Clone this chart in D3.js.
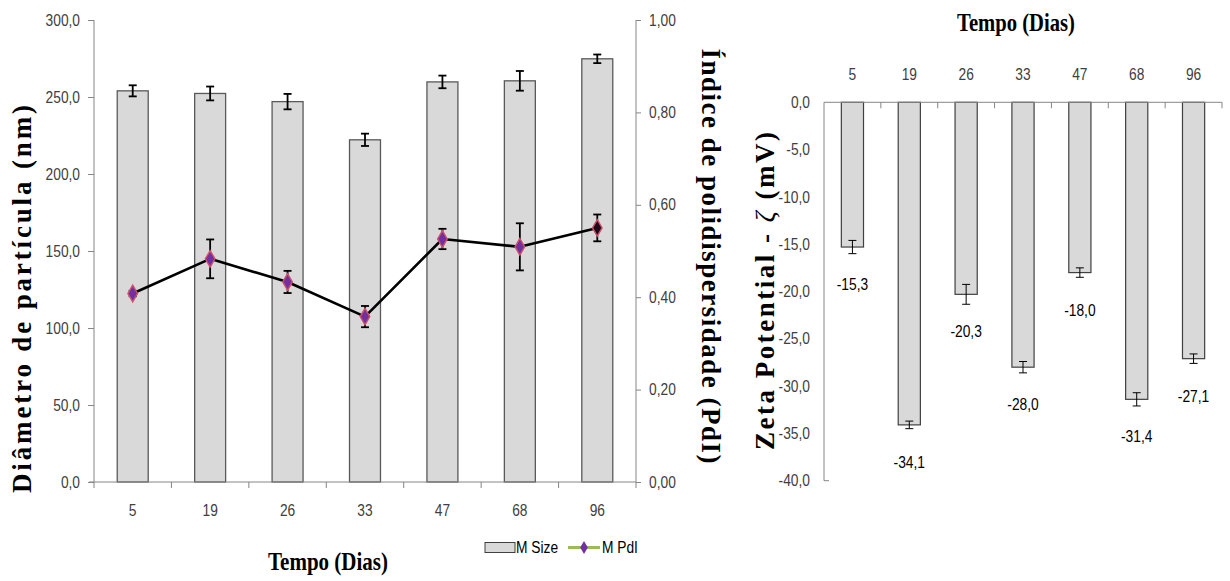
<!DOCTYPE html>
<html>
<head>
<meta charset="utf-8">
<script src="https://cdn.jsdelivr.net/npm/d3@7"></script>
<style>
  html, body { margin: 0; padding: 0; background: #ffffff; }
  svg { display: block; }
  .tick-label { font-family: "Liberation Sans", Arial, sans-serif; font-size: 16px; fill: #404040; }
  .title { font-family: "Liberation Serif", "Times New Roman", serif; font-weight: bold; fill: #000; }
</style>
</head>
<body>
<svg id="chart" width="1230" height="581"></svg>
<script>
// Sampling days (categories shared by both panels)
const days = ["5", "19", "26", "33", "47", "68", "96"];

// Mean particle size (nm) and its standard deviation
const sizeMean = [254.0, 252.3, 247.0, 222.2, 259.8, 260.5, 274.8];
const sizeErr  = [3.6, 4.5, 5.0, 4.0, 4.1, 6.4, 2.8];

// Mean polydispersity index and its standard deviation
const pdiMean = [0.408, 0.483, 0.433, 0.358, 0.526, 0.509, 0.550];
const pdiErr  = [0.006, 0.042, 0.024, 0.023, 0.022, 0.051, 0.029];

// Zeta potential (mV) and its standard deviation
const zeta    = [-15.3, -34.1, -20.3, -28.0, -18.0, -31.4, -27.1];
const zetaErr = [0.7, 0.4, 1.05, 0.6, 0.5, 0.7, 0.5];

// Axis tick values
const sizeTicks = [0, 50, 100, 150, 200, 250, 300];
const pdiTicks  = [0, 0.2, 0.4, 0.6, 0.8, 1.0];
const zetaTicks = [0, -5, -10, -15, -20, -25, -30, -35, -40];

const svg = d3.select("#chart");
const axisColor = "#868686";
const fmt1 = d => d.toFixed(1).replace(".", ",");
const fmt2 = d => d.toFixed(2).replace(".", ",");

// ---------- Left panel: size bars + PdI line ----------
const L = { left: 94, right: 636, top: 20, bottom: 482 };
const x1 = d3.scaleBand().domain(days).range([L.left, L.right]).padding(0);
const ySize = d3.scaleLinear().domain([0, 300]).range([L.bottom, L.top]);
const yPdi = d3.scaleLinear().domain([0, 1]).range([L.bottom, L.top]);
const barW1 = x1.bandwidth() * 0.4;

const gL = svg.append("g");

// bars
gL.selectAll("rect.size").data(days).join("rect")
  .attr("class", "size")
  .attr("x", (d) => x1(d) + (x1.bandwidth() - barW1) / 2)
  .attr("y", (d, i) => ySize(sizeMean[i]))
  .attr("width", barW1)
  .attr("height", (d, i) => ySize(0) - ySize(sizeMean[i]))
  .attr("fill", "#d9d9d9")
  .attr("stroke", "#595959")
  .attr("stroke-width", 1.3);

// error bars helper
function errBars(g, xs, ys, means, errs, cap, width) {
  const cx = d => xs(d) + xs.bandwidth() / 2;
  const eg = g.append("g").attr("stroke", "#000").attr("stroke-width", width).attr("fill", "none");
  days.forEach((d, i) => {
    const y0 = ys(means[i] - errs[i]), y1 = ys(means[i] + errs[i]);
    eg.append("line").attr("x1", cx(d)).attr("x2", cx(d)).attr("y1", y0).attr("y2", y1);
    eg.append("line").attr("x1", cx(d) - cap).attr("x2", cx(d) + cap).attr("y1", y0).attr("y2", y0);
    eg.append("line").attr("x1", cx(d) - cap).attr("x2", cx(d) + cap).attr("y1", y1).attr("y2", y1);
  });
}
errBars(gL, x1, ySize, sizeMean, sizeErr, 4, 1.8);

// axes (left panel)
const axL = gL.append("g").attr("transform", `translate(${L.left},0)`)
  .call(d3.axisLeft(ySize).tickValues(sizeTicks).tickFormat(fmt1).tickSize(6).tickPadding(8));
const axR = gL.append("g").attr("transform", `translate(${L.right},0)`)
  .call(d3.axisRight(yPdi).tickValues(pdiTicks).tickFormat(fmt2).tickSize(5).tickPadding(8));
// category boundary ticks on the bottom axis
gL.append("g").selectAll("line").data(d3.range(days.length + 1)).join("line")
  .attr("x1", i => L.left + i * x1.step()).attr("x2", i => L.left + i * x1.step())
  .attr("y1", L.bottom).attr("y2", L.bottom + 6)
  .attr("stroke", axisColor);
gL.append("line").attr("x1", L.left - 5).attr("x2", L.right).attr("y1", L.bottom).attr("y2", L.bottom)
  .attr("stroke", axisColor);
gL.selectAll("text.xl").data(days).join("text")
  .attr("class", "tick-label xl")
  .attr("x", d => x1(d) + x1.bandwidth() / 2)
  .attr("y", 516)
  .attr("text-anchor", "middle")
  .text(d => d);

[axL, axR].forEach(a => {
  a.selectAll("path.domain").attr("stroke", axisColor).attr("stroke-width", 1);
  a.selectAll(".tick line").attr("stroke", axisColor);
  a.selectAll(".tick text").attr("class", "tick-label").attr("font-size", null).attr("font-family", null);
});
axL.select("path.domain").attr("d", `M0,${L.bottom}V${L.top}`);
axR.select("path.domain").attr("d", `M0,${L.bottom}V${L.top}`);

// PdI line
const cx1 = (d) => x1(d) + x1.bandwidth() / 2;
const line = d3.line().x((d, i) => cx1(days[i])).y(d => yPdi(d));
gL.append("path").datum(pdiMean)
  .attr("d", line)
  .attr("fill", "none")
  .attr("stroke", "#000")
  .attr("stroke-width", 2.6)
  .attr("stroke-linejoin", "round");

errBars(gL, x1, yPdi, pdiMean, pdiErr, 4, 1.8);

const diamond = d3.symbol().type(d3.symbolDiamond).size(80);
gL.selectAll("path.pdi").data(pdiMean).join("path")
  .attr("class", "pdi")
  .attr("d", diamond)
  .attr("transform", (d, i) => `translate(${cx1(days[i])},${yPdi(d)})`)
  .attr("fill", (d, i) => i === days.length - 1 ? "#1a0a1a" : "#7030a0")
  .attr("stroke", "#d0506a")
  .attr("stroke-width", 1.4);

// titles (left panel)
gL.append("text").attr("class", "title")
  .attr("transform", "translate(31,299) rotate(-90)")
  .attr("text-anchor", "middle")
  .attr("font-size", 27)
  .attr("textLength", 388).attr("lengthAdjust", "spacing")
  .text("Diâmetro de partícula (nm)");
gL.append("text").attr("class", "title")
  .attr("transform", "translate(702,256) rotate(90)")
  .attr("text-anchor", "middle")
  .attr("font-size", 27)
  .attr("textLength", 415).attr("lengthAdjust", "spacing")
  .text("Índice de polidispersidade (PdI)");
gL.append("text").attr("class", "title")
  .attr("x", 328).attr("y", 570)
  .attr("text-anchor", "middle")
  .attr("font-size", 26)
  .attr("textLength", 120).attr("lengthAdjust", "spacingAndGlyphs")
  .text("Tempo (Dias)");

// legend
const lg = gL.append("g");
lg.append("rect").attr("x", 485).attr("y", 542.5).attr("width", 30).attr("height", 10)
  .attr("fill", "#d9d9d9").attr("stroke", "#404040").attr("stroke-width", 1);
lg.append("text").attr("class", "tick-label").attr("x", 516).attr("y", 553).attr("font-size", 15)
  .style("fill", "#000").text("M Size");
lg.append("line").attr("x1", 568).attr("x2", 600).attr("y1", 547.5).attr("y2", 547.5)
  .attr("stroke", "#9bbb59").attr("stroke-width", 3);
lg.append("path").attr("d", d3.symbol().type(d3.symbolDiamond).size(50))
  .attr("transform", "translate(584,547.5)").attr("fill", "#7030a0");
lg.append("text").attr("class", "tick-label").attr("x", 602).attr("y", 553).attr("font-size", 15)
  .style("fill", "#000").text("M PdI");

// ---------- Right panel: zeta potential ----------
const R = { left: 824, right: 1222, top: 102.3, bottom: 480.7 };
const x2 = d3.scaleBand().domain(days).range([R.left, R.right]).padding(0);
const yZ = d3.scaleLinear().domain([0, -40]).range([R.top, R.bottom]);
const barW2 = x2.bandwidth() * 0.39;
const gR = svg.append("g");

gR.selectAll("rect.zeta").data(days).join("rect")
  .attr("class", "zeta")
  .attr("x", d => x2(d) + (x2.bandwidth() - barW2) / 2)
  .attr("y", yZ(0))
  .attr("width", barW2)
  .attr("height", (d, i) => yZ(zeta[i]) - yZ(0))
  .attr("fill", "#d9d9d9")
  .attr("stroke", "#404040")
  .attr("stroke-width", 1.2);

errBars(gR, x2, yZ, zeta, zetaErr, 4, 1);

const axZ = gR.append("g").attr("transform", `translate(${R.left},0)`)
  .call(d3.axisLeft(yZ).tickValues(zetaTicks).tickFormat(fmt1).tickSize(0).tickPadding(14));
axZ.select("path.domain").attr("d", `M0,${R.top}V${R.bottom}H5`).attr("stroke", axisColor).attr("fill", "none");
axZ.selectAll(".tick text").attr("class", "tick-label").attr("font-size", null).attr("font-family", null);

// top category axis
gR.append("line").attr("x1", R.left).attr("x2", R.right).attr("y1", R.top).attr("y2", R.top).attr("stroke", axisColor);
gR.append("g").selectAll("line").data(d3.range(1, days.length + 1)).join("line")
  .attr("x1", i => R.left + i * x2.step()).attr("x2", i => R.left + i * x2.step())
  .attr("y1", R.top).attr("y2", R.top + 6)
  .attr("stroke", axisColor);
gR.selectAll("text.xt").data(days).join("text")
  .attr("class", "tick-label xt")
  .attr("x", d => x2(d) + x2.bandwidth() / 2)
  .attr("y", 80)
  .attr("text-anchor", "middle")
  .text(d => d);

// value labels under each bar
gR.selectAll("text.val").data(zeta).join("text")
  .attr("class", "tick-label val")
  .attr("x", (d, i) => x2(days[i]) + x2.bandwidth() / 2)
  .attr("y", d => yZ(d) + 43)
  .attr("text-anchor", "middle")
  .style("fill", "#000")
  .text(d => fmt1(d));

// titles (right panel)
gR.append("text").attr("class", "title")
  .attr("x", 1016).attr("y", 31)
  .attr("text-anchor", "middle")
  .attr("font-size", 26)
  .attr("textLength", 118).attr("lengthAdjust", "spacingAndGlyphs")
  .text("Tempo (Dias)");
const zt = gR.append("text").attr("class", "title")
  .attr("transform", "translate(774,291) rotate(-90)")
  .attr("text-anchor", "middle")
  .attr("font-size", 27)
  .attr("textLength", 318).attr("lengthAdjust", "spacing");
zt.append("tspan").text("Zeta Potential - ");
zt.append("tspan").attr("font-style", "italic").attr("font-weight", "normal").text("ζ");
zt.append("tspan").text(" (mV)");

// narrow all sans labels horizontally to a condensed width
svg.selectAll("text.tick-label").each(function () {
  const w = this.getComputedTextLength();
  d3.select(this).attr("textLength", (w * 0.86).toFixed(1)).attr("lengthAdjust", "spacingAndGlyphs");
});
</script>
</body>
</html>
